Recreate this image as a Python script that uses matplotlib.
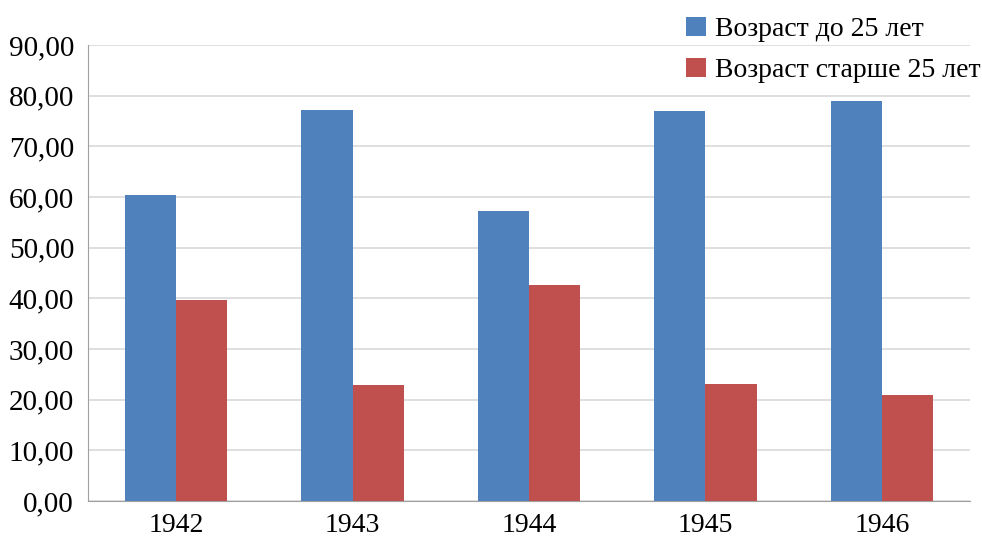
import numpy as np
import matplotlib.pyplot as plt
from matplotlib.ticker import FuncFormatter

years = ["1942", "1943", "1944", "1945", "1946"]
do25 = [60.3, 77.1, 57.3, 76.9, 79.0]
posle25 = [39.7, 22.9, 42.7, 23.1, 21.0]

plt.rcParams['font.family'] = ['Liberation Serif', 'DejaVu Serif']

fig = plt.figure(figsize=(9.82, 5.39), dpi=100)
ax = fig.add_axes([88/982, 1-501/539, 882/982, 456/539])

x = np.arange(len(years))
w = 0.29
ax.bar(x - w/2, do25, w, color="#4F81BD", label="Возраст до 25 лет", zorder=3)
ax.bar(x + w/2, posle25, w, color="#C0504D", label="Возраст старше 25 лет", zorder=3)

ax.set_xlim(-0.5, 4.5)
ax.set_ylim(0, 90)
ax.set_yticks(np.arange(0, 91, 10))
ax.yaxis.set_major_formatter(FuncFormatter(lambda v, p: ("%.2f" % v).replace(".", ",")))
ax.set_xticks(x)
ax.set_xticklabels(years)
ax.tick_params(axis='y', length=0, labelsize=21, colors='black', pad=10)
ax.tick_params(axis='x', length=0, labelsize=20, colors='black', pad=9)
ax.grid(axis='y', color='#d9d9d9', linewidth=1.2, zorder=0)
for s in ['top', 'right']:
    ax.spines[s].set_visible(False)
for s in ['left', 'bottom']:
    ax.spines[s].set_color('#a0a0a0')

fig.legend(loc='upper left', bbox_to_anchor=(664/982, 1.01), frameon=False,
           fontsize=20, handlelength=0.7, handleheight=0.7, handletextpad=0.35,
           labelspacing=0.55, borderpad=0.3)

plt.savefig("out.png")
plt.close()
